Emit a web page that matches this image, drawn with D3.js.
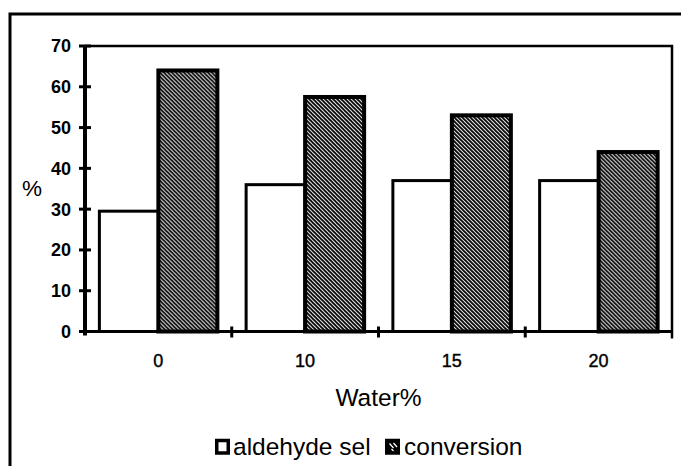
<!DOCTYPE html>
<html>
<head>
<meta charset="utf-8">
<script src="https://cdn.jsdelivr.net/npm/d3@7"></script>
<style>
  html, body { margin: 0; padding: 0; background: #fff; }
  svg { display: block; }
  text { font-family: "Liberation Sans", Arial, sans-serif; fill: #000; }
</style>
</head>
<body>
<svg id="chart" width="681" height="466"></svg>
<script>
// Water content (%) in the feed
const categories = ["0", "10", "15", "20"];
// Series values (%)
const aldehydeSel = [29.5, 36, 37, 37];
const conversion  = [64, 57.5, 53, 44];
const seriesNames = ["aldehyde sel", "conversion"];
const yTicks = [0, 10, 20, 30, 40, 50, 60, 70];

const svg = d3.select("#chart");
const W = 681, H = 466;
const plot = { left: 85, right: 672, top: 46, bottom: 331.5 };

// hatched fill for the conversion bars
const defs = svg.append("defs");
const pat = defs.append("pattern")
  .attr("id", "hatch")
  .attr("patternUnits", "userSpaceOnUse")
  .attr("width", 4).attr("height", 4);
pat.append("rect").attr("width", 4).attr("height", 4).attr("fill", "#fff");
pat.append("path")
  .attr("d", "M-1,-1 L5,5 M-1,3 L1,5 M3,-1 L5,1")
  .attr("stroke", "#000").attr("stroke-width", 1.9);

// outer frame (runs off the right and bottom edges)
svg.append("path")
  .attr("d", `M10,${H + 5} L10,14 L${W + 5},14`)
  .attr("fill", "none").attr("stroke", "#000").attr("stroke-width", 3);

const x = d3.scaleBand()
  .domain(categories)
  .range([plot.left, plot.right])
  .paddingInner(0.196)
  .paddingOuter(0.098);

const xSub = d3.scaleBand()
  .domain(seriesNames)
  .range([0, x.bandwidth()]);

const y = d3.scaleLinear()
  .domain([0, 70])
  .range([plot.bottom, plot.top]);

const rows = categories.map((c, i) => ({ cat: c, vals: [aldehydeSel[i], conversion[i]] }));

// bars
const groups = svg.append("g").selectAll("g")
  .data(rows).join("g")
  .attr("transform", d => `translate(${x(d.cat)},0)`);

groups.selectAll("rect")
  .data(d => d.vals.map((v, k) => ({ name: seriesNames[k], v })))
  .join("rect")
  .attr("x", d => xSub(d.name))
  .attr("y", d => y(d.v))
  .attr("width", xSub.bandwidth())
  .attr("height", d => y(0) - y(d.v))
  .attr("fill", d => d.name === "conversion" ? "url(#hatch)" : "#fff")
  .attr("stroke", "#000")
  .attr("stroke-width", d => d.name === "conversion" ? 4 : 3);

// plot area border: top and right
svg.append("path")
  .attr("d", `M${plot.left},${plot.top} L${plot.right},${plot.top} L${plot.right},${plot.bottom + 7}`)
  .attr("fill", "none").attr("stroke", "#000").attr("stroke-width", 2.5);

// y axis
svg.append("line")
  .attr("x1", plot.left).attr("x2", plot.left)
  .attr("y1", plot.top - 1).attr("y2", plot.bottom + 4)
  .attr("stroke", "#000").attr("stroke-width", 4);

const yAxis = svg.append("g");
yAxis.selectAll("line")
  .data(yTicks).join("line")
  .attr("x1", plot.left - 6).attr("x2", plot.left + 6)
  .attr("y1", d => y(d)).attr("y2", d => y(d))
  .attr("stroke", "#000").attr("stroke-width", 3);
yAxis.selectAll("text")
  .data(yTicks).join("text")
  .attr("x", plot.left - 14)
  .attr("y", d => y(d))
  .attr("dy", "0.36em")
  .attr("text-anchor", "end")
  .attr("font-size", 18)
  .attr("font-weight", "bold")
  .text(d => d);

// x axis baseline
svg.append("line")
  .attr("x1", plot.left).attr("x2", plot.right)
  .attr("y1", plot.bottom).attr("y2", plot.bottom)
  .attr("stroke", "#000").attr("stroke-width", 3);

// ticks between categories
const bounds = categories.slice(1).map(c => x(c) - x.step() * x.paddingInner() / 2);
svg.append("g").selectAll("line")
  .data(bounds).join("line")
  .attr("x1", d => d).attr("x2", d => d)
  .attr("y1", plot.bottom - 5).attr("y2", plot.bottom + 6)
  .attr("stroke", "#000").attr("stroke-width", 3);

svg.append("g").selectAll("text")
  .data(categories).join("text")
  .attr("x", d => x(d) + x.bandwidth() / 2)
  .attr("y", 367)
  .attr("text-anchor", "middle")
  .attr("font-size", 18)
  .attr("stroke", "#000").attr("stroke-width", 0.4)
  .text(d => d);

// axis titles
svg.append("text")
  .attr("x", (plot.left + plot.right) / 2)
  .attr("y", 406)
  .attr("text-anchor", "middle")
  .attr("font-size", 24.5)
  .text("Water%");

svg.append("text")
  .attr("x", 32)
  .attr("y", 196)
  .attr("text-anchor", "middle")
  .attr("font-size", 22.5)
  .text("%");

// legend
const legend = svg.append("g");
const legendItems = [
  { name: seriesNames[0], box: 215, text: 233, fill: "#fff" },
  { name: seriesNames[1], box: 385, text: 404, fill: "#000" }
];
legend.selectAll("rect")
  .data(legendItems).join("rect")
  .attr("x", d => d.box + 1.75).attr("y", 440.5)
  .attr("width", 11.5).attr("height", 12.5)
  .attr("fill", d => d.fill)
  .attr("stroke", "#000").attr("stroke-width", 3.5);
legend.append("path")
  .attr("d", "M389.5,443.5 L393.5,448 M393.5,443 L397,447 M391.5,449 L393.5,451")
  .attr("stroke", "#fff").attr("stroke-width", 1.3);
legend.selectAll("text")
  .data(legendItems).join("text")
  .attr("x", d => d.text).attr("y", 455)
  .attr("font-size", 24.5)
  .text(d => d.name);
</script>
</body>
</html>
